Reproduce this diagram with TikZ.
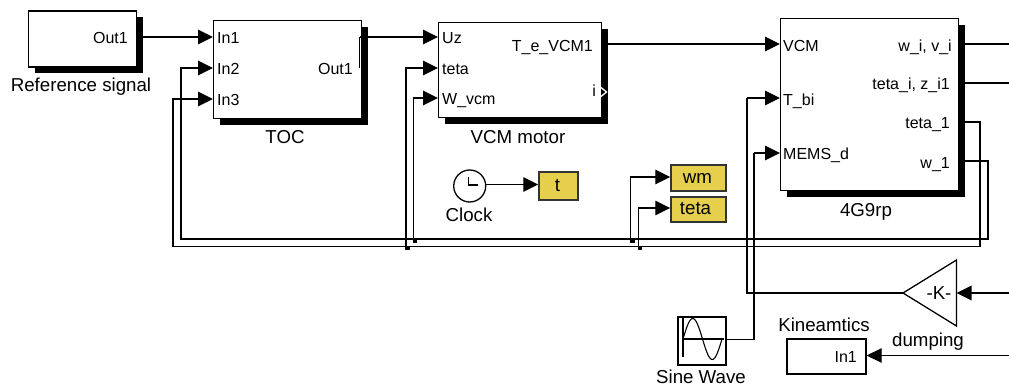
\documentclass[tikz,border=0pt]{standalone}
\usepackage{fontspec}
\setmainfont{Liberation Sans}
\usetikzlibrary{arrows.meta,shapes.geometric,positioning,calc}
\definecolor{scopeyellow}{HTML}{E7CF4E}
\definecolor{scopeedge}{HTML}{333333}
\tikzset{
  wire/.style={line width=1.3pt,black,line join=miter},
  sig/.style={wire,-{Triangle[length=15pt,width=14.5pt]}},
  blk/.style={draw=black,line width=1.3pt,fill=white,rectangle,inner sep=0pt},
  shade/.style={fill=black,draw=none},
  port/.style={font=\fontsize{16}{18}\selectfont,inner sep=0pt},
  portl/.style={port,anchor=base west},
  portr/.style={port,anchor=base east},
  captxt/.style={font=\fontsize{18.7}{20}\selectfont,inner sep=0pt,anchor=base},
  scopebox/.style={draw=scopeedge,line width=1.5pt,fill=scopeyellow,rectangle,inner sep=0pt},
  dotm/.style={fill=black,draw=none,minimum size=4.5pt,inner sep=0pt,rectangle}
}
\newcommand{\blockat}[5]{% name x1 y1 x2 y2
  \fill[shade] (#2+7,#3+7) rectangle (#4+7,#5+7);
  \node[blk,minimum width=#4pt-#2pt,minimum height=#5pt-#3pt,anchor=north west] (#1) at (#2,#3) {};
}
\begin{document}
\begin{tikzpicture}[x=1pt,y=-1pt]
\useasboundingbox (0,0) rectangle (1009,385);
% blocks
\blockat{ref}{27.5}{10.5}{136}{66.5}
\blockat{toc}{213}{20}{361}{118}
\blockat{vcm}{438}{22}{601}{117}
\blockat{bp}{780}{18}{958}{190}
% coordinates of ports
\coordinate (refo) at (136,37);
\coordinate (in1) at (213,37);
\coordinate (in2) at (213,68);
\coordinate (in3) at (213,99);
\coordinate (toco) at (359.5,68);
\coordinate (uz) at (438,37);
\coordinate (vt) at (438,68);
\coordinate (vw) at (438,98);
\coordinate (vo) at (601,44);
\coordinate (bv) at (780,44);
\coordinate (bt) at (780,98);
\coordinate (bm) at (780,153);
\coordinate (o1) at (958,44);
\coordinate (o2) at (958,83);
\coordinate (o3) at (958,122);
\coordinate (o4) at (958,161);
\coordinate (e1) at (1009,44);
\coordinate (e2) at (1009,83);
\coordinate (e3) at (1009,293);
\coordinate (e4) at (1009,355.5);
% other blocks
\node[draw=black,line width=1.3pt,fill=white,circle,minimum size=32pt,inner sep=0pt] (clk) at (469.7,186) {};
\draw[wire] (468.5,176.5) -- (468.5,185) -- (478,185);
\node[scopebox,minimum width=39pt,minimum height=28pt] (ts) at (558.5,186) {};
\node[scopebox,minimum width=55pt,minimum height=26pt] (wm) at (698.5,178) {};
\node[scopebox,minimum width=55pt,minimum height=25pt] (te) at (698.5,209.5) {};
\node[draw=black,line width=1.3pt,fill=white,rectangle,minimum width=48pt,minimum height=48pt,inner sep=0pt] (sw) at (702,341) {};
\draw[line width=1.1pt] (683,318) -- (683,357) (682,339) -- (724,339);
\draw[line width=1.1pt,smooth] plot[domain=0:360,samples=40] ({683+\x*39/360},{339-20.5*sin(\x)});
\node[blk,minimum width=79pt,minimum height=35pt] (kin) at (826.5,356.5) {};
\coordinate (gainapex) at (903,293);
\coordinate (gainin) at (956.5,293);
\draw[line width=1.3pt,line join=miter,fill=white] (gainapex) -- (956.5,260) -- (956.5,326) -- cycle;
% connectors
\draw[sig] (refo) -- (in1);
\draw[wire] (toco) -- (359.5,37);
\draw[sig] (359.5,37) -- (uz);
\draw[sig] (vo) -- (bv);
\draw[wire] (o1) -- (e1);
\draw[wire] (o2) -- (e2);
\coordinate (r3a) at (980,122);
\coordinate (r3b) at (980,246.5);
\coordinate (r4a) at (988,161);
\coordinate (r4b) at (988,239);
\coordinate (l2) at (181,239);
\coordinate (l3) at (173,246.5);
\draw[sig] (o4) -- (r4a) -- (r4b) -- (l2) -- (181,68) -- (in2);
\draw[sig] (o3) -- (r3a) -- (r3b) -- (l3) -- (173,99) -- (in3);
\coordinate (d1) at (406,246.5);
\coordinate (d2) at (413.3,239);
\coordinate (d3) at (630.8,239);
\coordinate (d4) at (638.2,246.5);
\draw[sig] (d1) -- (406,68) -- (vt);
\draw[sig] (d2) -- (413.3,98) -- (vw);
\draw[sig] (d3) -- (630.8,177) -- (wm.west |- 0,177);
\draw[sig] (d4) -- (638.2,208) -- (te.west |- 0,208);
\node[dotm] (j1) at (407.5,248) {};
\node[dotm] (j2) at (415,240.7) {};
\node[dotm] (j3) at (632.5,240.7) {};
\node[dotm] (j4) at (640,248) {};
\draw[sig] (clk.east |- 0,184.5) -- (ts.west |- 0,184.5);
\draw[sig] (e3) -- (gainin);
\draw[wire] (gainapex) -- (747,293) -- (747,98);
\draw[sig] (747,98) -- (bt);
\draw[wire] (sw.east |- 0,339.5) -- (754,339.5) -- (754,153);
\draw[sig] (754,153) -- (bm);
\draw[sig] (e4) -- (kin.east |- e4);
% output port chevron
\draw[white,line width=1.3pt] (601,87.5) -- (606.5,92) -- (601,96.5);
% port labels
\node[portr] (t1) at (128,44) {Out1};
\node[portl] (t2) at (217,44) {In1};
\node[portl] (t3) at (217,75) {In2};
\node[portl] (t4) at (217,106) {In3};
\node[portr] (t5) at (353,75) {Out1};
\node[portl] (t6) at (442,44) {Uz};
\node[portl] (t7) at (442,75) {teta};
\node[portl] (t8) at (442,105) {W\_vcm};
\node[portr] (t9) at (593,52) {T\_e\_VCM1};
\node[portr] (t10) at (596,97) {i};
\node[portl] (t11) at (783,52) {VCM};
\node[portl] (t12) at (783,106) {T\_bi};
\node[portl] (t13) at (783,160) {MEMS\_d};
\node[portr] (t14) at (952,52) {w\_i, v\_i};
\node[portr] (t15) at (950,90) {teta\_i, z\_i1};
\node[portr] (t16) at (950,129) {teta\_1};
\node[portr] (t17) at (950,168) {w\_1};
\node[portr] (t18) at (857,362) {In1};
% block captions
\node[captxt] (t19) at (939,299) {-K-};
\node[captxt] (c1) at (81,92) {Reference signal};
\node[captxt] (c2) at (285,143) {TOC};
\node[captxt] (c3) at (518,143) {VCM motor};
\node[captxt] (c4) at (866,216) {4G9rp};
\node[captxt] (c5) at (469,221) {Clock};
\node[captxt] (c6) at (701,383) {Sine Wave};
\node[captxt] (c7) at (824,331) {Kineamtics};
\node[captxt] (c8) at (928,346) {dumping};
\node[captxt] (c9) at (557.5,191) {t};
\node[captxt] (c10) at (697.5,183) {wm};
\node[captxt] (c11) at (695.5,214) {teta};
\end{tikzpicture}
\end{document}
